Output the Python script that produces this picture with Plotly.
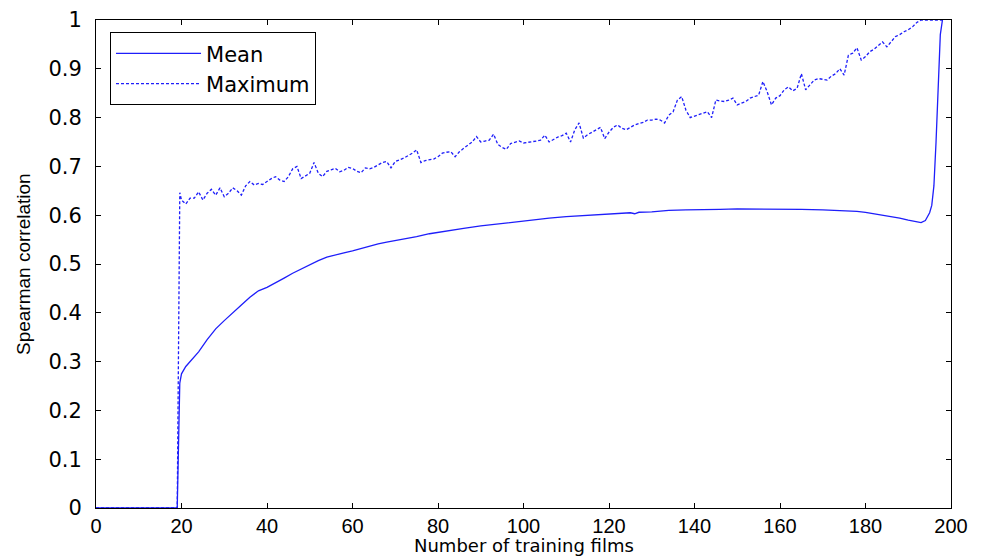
import plotly.graph_objects as go

# Mean curve
mean_x = [0, 19, 19.6, 20, 21, 22, 24, 26, 28, 30, 32, 34, 36, 38, 40, 42, 44, 46, 48, 50,
          52, 54, 56, 58, 60, 62, 64, 66, 68, 70, 72, 75, 78, 80, 83, 86, 90, 94, 98, 102,
          106, 110, 114, 118, 122, 125, 126, 127, 130, 134, 138, 142, 146, 150, 155, 160,
          165, 170, 175, 178, 180, 182, 184, 186, 188, 190, 192, 193, 194, 195, 195.5, 196,
          196.5, 197, 197.5, 198]
mean_y = [0, 0, 0.256, 0.275, 0.29, 0.30, 0.32, 0.345, 0.367, 0.384, 0.399, 0.416, 0.432,
          0.445, 0.452, 0.461, 0.471, 0.481, 0.490, 0.498, 0.507, 0.514, 0.519, 0.523, 0.527,
          0.532, 0.537, 0.541, 0.545, 0.548, 0.551, 0.556, 0.562, 0.565, 0.569, 0.573, 0.578,
          0.582, 0.587, 0.590, 0.594, 0.597, 0.599, 0.602, 0.604, 0.605, 0.603, 0.606, 0.607,
          0.610, 0.611, 0.611, 0.612, 0.613, 0.613, 0.613, 0.612, 0.611, 0.610, 0.608, 0.606,
          0.603, 0.600, 0.598, 0.594, 0.590, 0.586, 0.585, 0.589, 0.605, 0.62, 0.66, 0.75,
          0.86, 0.97, 1.0]

# Maximum curve
max_x = [0, 19, 19.6] + list(range(20, 199))
max_y = [0, 0, 0.646,
         0.631, 0.623, 0.635, 0.635, 0.648, 0.631, 0.645, 0.653, 0.641, 0.656,  # 20-29
         0.638, 0.645, 0.656, 0.650, 0.641, 0.660, 0.669, 0.662, 0.665, 0.663,  # 30-39
         0.669, 0.675, 0.679, 0.672, 0.669, 0.679, 0.695, 0.700, 0.675, 0.680,  # 40-49
         0.686, 0.708, 0.686, 0.679, 0.690, 0.693, 0.696, 0.689, 0.692, 0.698,  # 50-59
         0.696, 0.690, 0.687, 0.697, 0.695, 0.698, 0.703, 0.708, 0.710, 0.697,  # 60-69
         0.710, 0.713, 0.717, 0.722, 0.727, 0.734, 0.708, 0.712, 0.713, 0.715,  # 70-79
         0.720, 0.727, 0.729, 0.730, 0.720, 0.730, 0.737, 0.744, 0.750, 0.761,  # 80-89
         0.750, 0.752, 0.754, 0.766, 0.745, 0.739, 0.735, 0.747, 0.750, 0.752,  # 90-99
         0.748, 0.749, 0.750, 0.752, 0.754, 0.764, 0.750, 0.755, 0.760, 0.763,  # 100-109
         0.768, 0.750, 0.775, 0.789, 0.758, 0.765, 0.770, 0.775, 0.780, 0.757,  # 110-119
         0.770, 0.780, 0.785, 0.778, 0.775, 0.780, 0.785, 0.788, 0.790, 0.795,  # 120-129
         0.795, 0.797, 0.795, 0.789, 0.805, 0.812, 0.836, 0.843, 0.815, 0.800,  # 130-139
         0.803, 0.805, 0.808, 0.812, 0.800, 0.836, 0.834, 0.833, 0.836, 0.840,  # 140-149
         0.826, 0.830, 0.833, 0.840, 0.843, 0.846, 0.874, 0.853, 0.826, 0.840,  # 150-159
         0.845, 0.857, 0.863, 0.855, 0.860, 0.890, 0.857, 0.868, 0.877, 0.880,  # 160-169
         0.878, 0.877, 0.885, 0.890, 0.900, 0.887, 0.928, 0.932, 0.943, 0.918,  # 170-179
         0.925, 0.935, 0.940, 0.947, 0.955, 0.945, 0.955, 0.966, 0.970, 0.976,  # 180-189
         0.980, 0.986, 0.995, 1.0, 1.0, 1.0, 1.0, 1.0, 1.0]                     # 190-198

x_ticks = list(range(0, 201, 20))
y_ticks = [0, 0.1, 0.2, 0.3, 0.4, 0.5, 0.6, 0.7, 0.8, 0.9, 1]
y_tick_text = ["0", "0.1", "0.2", "0.3", "0.4", "0.5", "0.6", "0.7", "0.8", "0.9", "1"]
x_title = "Number of training films"
y_title = "Spearman correlation"

blue = "rgb(30,30,250)"

fig = go.Figure()
fig.add_trace(go.Scatter(x=mean_x, y=mean_y, mode="lines", name="Mean",
                         line=dict(color=blue, width=1.3)))
fig.add_trace(go.Scatter(x=max_x, y=max_y, mode="lines", name="Maximum",
                         line=dict(color=blue, width=1.3, dash="3px,2px")))

axis_common = dict(showline=True, linecolor="black", linewidth=1, mirror="ticks",
                   ticks="inside", ticklen=5, tickcolor="black", showgrid=False,
                   zeroline=False, automargin=False)

fig.update_layout(
    width=985, height=557,
    margin=dict(l=96, r=34, t=20, b=49),
    paper_bgcolor="white", plot_bgcolor="white",
    font=dict(family="Liberation Sans, Arial, sans-serif", color="black"),
    showlegend=True,
    legend=dict(x=0.0164, y=0.975, xanchor="left", yanchor="top",
                bgcolor="white", bordercolor="black", borderwidth=1,
                font=dict(size=21, family="DejaVu Sans, Arial, sans-serif"),
                itemwidth=85, tracegroupgap=0),
    xaxis=dict(range=[0, 200], tickvals=x_ticks,
               tickfont=dict(size=20, family="Liberation Sans, Arial"),
               ticklabelstandoff=0,
               **axis_common),
    yaxis=dict(range=[0, 1], tickvals=y_ticks, ticktext=y_tick_text,
               tickfont=dict(size=21, family="DejaVu Sans, Arial"),
               ticklabelstandoff=9,
               **axis_common),
    annotations=[
        dict(text=x_title, xref="paper", yref="paper", x=0.5, y=0,
             xanchor="center", yanchor="bottom", yshift=-49, showarrow=False,
             borderpad=0,
             font=dict(size=18, family="DejaVu Sans, Arial")),
        dict(text=y_title, xref="paper", yref="paper", x=0, y=0.5,
             xanchor="center", yanchor="middle", xshift=-73, textangle=-90,
             showarrow=False, font=dict(size=19, family="Liberation Sans, Arial")),
    ],
)

fig.write_html("out.html")
